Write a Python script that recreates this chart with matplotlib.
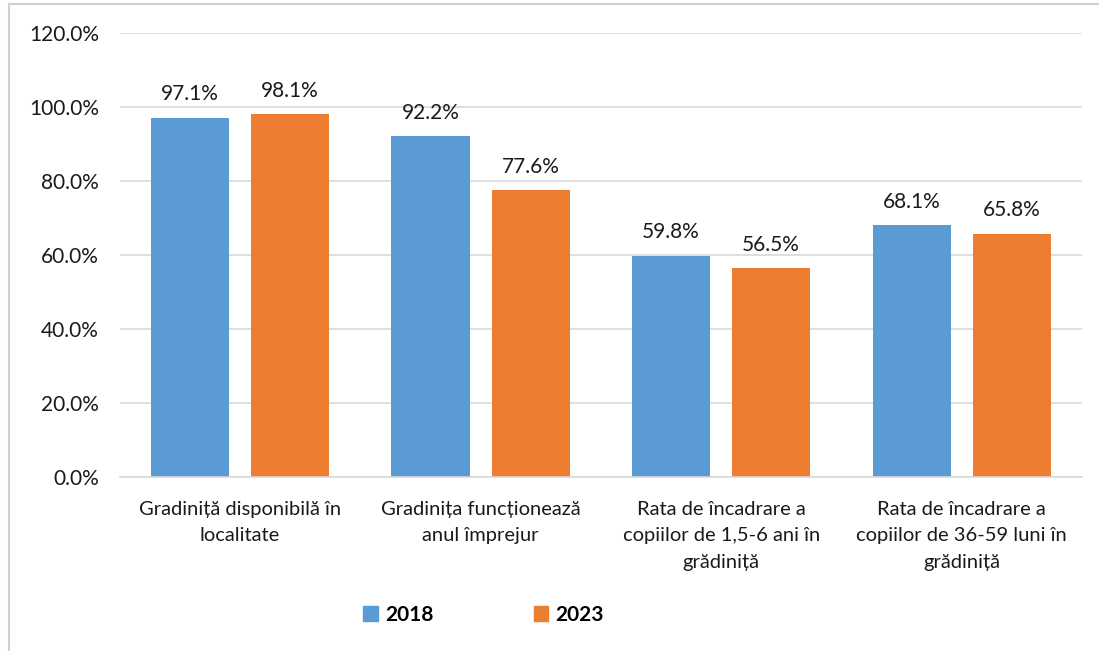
import numpy as np
import matplotlib.pyplot as plt
from matplotlib.lines import Line2D
from matplotlib.patches import Patch

categories = ['Gradiniță disponibilă în\nlocalitate',
              'Gradinița funcționează\nanul împrejur',
              'Rata de încadrare a\ncopiilor de 1,5-6 ani în\ngrădiniță',
              'Rata de încadrare a\ncopiilor de 36-59 luni în\ngrădiniță']
years = ['2018', '2023']
v2018 = [97.1, 92.2, 59.8, 68.1]
v2023 = [98.1, 77.6, 56.5, 65.8]

blue = '#5B9BD5'
orange = '#ED7D31'

plt.rcParams['font.family'] = ['Lato', 'DejaVu Sans']

fig = plt.figure(figsize=(10.99, 6.51), dpi=100)
ax = fig.add_axes([0.109, 0.2673, 0.8755, 0.682])

x = np.arange(len(categories))
w = 0.325
off = 0.208
b1 = ax.bar(x - off, v2018, w, color=blue, zorder=2)
b2 = ax.bar(x + off, v2023, w, color=orange, zorder=2)

for bars, vals in [(b1, v2018), (b2, v2023)]:
    for r, v in zip(bars, vals):
        ax.text(r.get_x() + r.get_width() / 2, v + 3.6, '%.1f%%' % v,
                ha='center', va='bottom', fontsize=15, color='#1a1a1a')

ax.set_xlim(-0.5, 3.5)
ax.set_ylim(0, 120)
ax.set_yticks(np.arange(0, 121, 20))
ax.set_yticklabels(['%.1f%%' % t for t in np.arange(0, 121, 20)], fontsize=15)
ax.set_xticks(x)
ax.set_xticklabels(categories, fontsize=14.5, linespacing=1.7)
ax.tick_params(axis='both', length=0, colors='#1a1a1a')
ax.tick_params(axis='y', pad=15)
ax.tick_params(axis='x', pad=17)
ax.grid(axis='y', color='#D9D9D9', linewidth=1.2, zorder=0)
for s in ['top', 'right', 'left']:
    ax.spines[s].set_visible(False)
ax.spines['bottom'].set_color('#D9D9D9')
ax.spines['bottom'].set_linewidth(1.2)

handles = [Patch(color=blue), Patch(color=orange)]
leg = fig.legend(handles, years, loc='center', bbox_to_anchor=(0.44, 0.056),
                 ncol=2, frameon=False, handlelength=0.7, handleheight=0.7,
                 handletextpad=0.35, columnspacing=4.8,
                 prop={'weight': 'bold', 'size': 15})

# outer frame of the chart area
fig.add_artist(Line2D([9 / 1099, 9 / 1099], [0, 1 - 4 / 651], color='#D0D0D0', lw=1.5))
fig.add_artist(Line2D([9 / 1099, 1], [1 - 4 / 651, 1 - 4 / 651], color='#D0D0D0', lw=1.5))

fig.savefig('out.png', dpi=100)
